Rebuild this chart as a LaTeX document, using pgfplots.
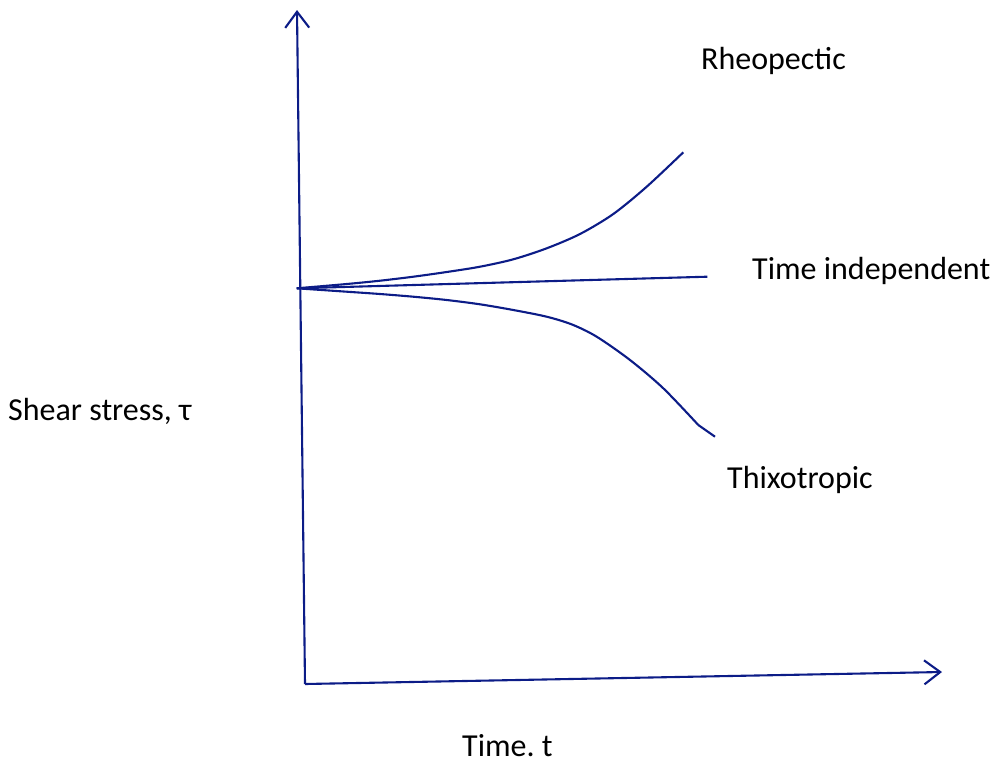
\documentclass[border=0pt]{standalone}
\usepackage{pgfplots}
\pgfplotsset{compat=1.18}
\usepackage{fontspec}
\setmainfont{Carlito}
\usetikzlibrary{arrows.meta}
\definecolor{navy}{RGB}{12,28,135}
\pgfplotsset{ln/.style={navy, line width=2.1pt, no markers}}
\frenchspacing
\begin{document}
\begin{tikzpicture}
\begin{axis}[
  scale only axis, width=996pt, height=764pt,
  xmin=0, xmax=996, ymin=0, ymax=764,
  y dir=reverse,
  hide axis, clip=false,
]
\coordinate (bl) at (axis cs:0,764);
\coordinate (tr) at (axis cs:996,0);
% axes
\addplot[ln, -{Straight Barb[length=16pt,width=24pt,line width=2.1pt]}] coordinates {(305,684) (297,10)};
\addplot[ln, -{Straight Barb[length=16pt,width=24pt,line width=2.1pt]}] coordinates {(305,684) (942,672)};
% time independent
\addplot[ln] coordinates {(297,288.3) (707.3,276.7)};
% rheopectic
\addplot[ln, smooth] coordinates {(296.7,288.3) (346.7,284) (380,280.7) (413.3,276.7) (446.7,272) (480,266.7) (513.3,259.3) (546.7,248.3) (580,234) (613.3,214) (646.7,186.7) (683.3,152.3)};
% thixotropic
\addplot[ln, smooth] coordinates {(296.7,288.3) (346.7,291.7) (380,294) (413.3,296.7) (446.7,300) (480,304.3) (513.3,310) (546.7,316.7) (572,324.5) (596.7,336.7) (630,360) (663.3,388.3) (698.3,425)};
\addplot[ln] coordinates {(698.3,425) (715,436.7)};
\begin{scope}[every node/.style={inner sep=0pt, font=\fontsize{32}{38}\selectfont, anchor=base west}]
\node at (axis cs:701,69) {Rheopectic};
\node at (axis cs:752,279) {Time independent};
\node at (axis cs:727,488.5) {Thixotropic};
\node at (axis cs:8,420) {Shear stress, τ};
\node at (axis cs:462,756) {Time. t};
\end{scope}
\end{axis}
\pgfresetboundingbox
\path[use as bounding box] (bl) rectangle (tr);
\end{tikzpicture}
\end{document}
